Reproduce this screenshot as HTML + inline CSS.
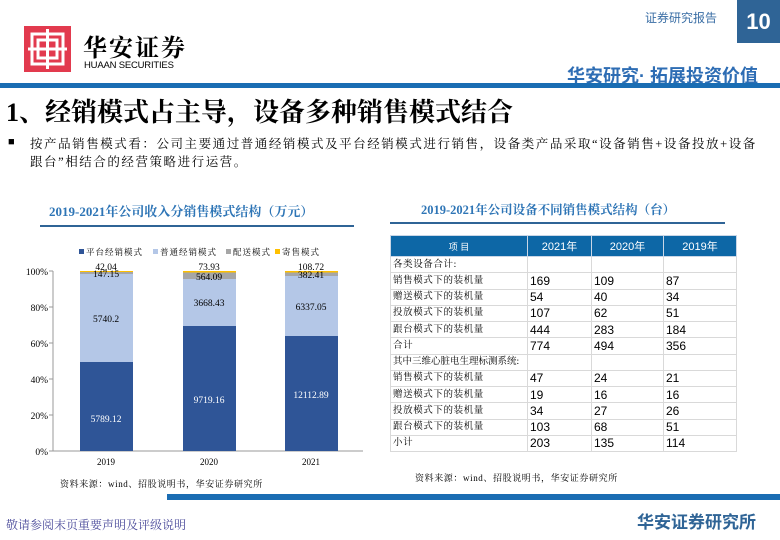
<!DOCTYPE html>
<html><head><meta charset="utf-8"><style>
*{margin:0;padding:0;box-sizing:border-box}
body{width:780px;height:540px;position:relative;background:#fff;overflow:hidden;font-family:"Liberation Serif","Noto Serif CJK SC",serif;color:#000}
.a{position:absolute;white-space:nowrap}
.sans{font-family:"Liberation Sans","Noto Sans CJK SC",sans-serif}
table{border-collapse:collapse;position:absolute;left:390px;top:235px;width:346px;font-size:9.5px;letter-spacing:0.6px;table-layout:fixed}
td{height:16.25px;border:1px solid #d9d9d9;padding:0 0 0 2px;line-height:14px;white-space:nowrap;overflow:hidden}
td.n{font-family:"Liberation Sans",sans-serif;font-size:12px;letter-spacing:0}
th{background:#0d67a6;color:#fff;height:21px;font-weight:normal;font-family:"Liberation Sans","Noto Sans CJK SC",sans-serif;font-size:11px;border:1px solid #c9d6e6;letter-spacing:0}
</style></head><body>
<div class="a sans" style="left:645px;top:9px;font-size:12px;color:#3a6ea5">证券研究报告</div>
<div class="a sans" style="left:737px;top:0;width:43px;height:43px;background:#2f6496;color:#fff;font-size:22px;font-weight:bold;text-align:center;line-height:44px">10</div>
<svg class="a" style="left:24px;top:26px" width="47" height="46" viewBox="0 0 47 46"><rect width="47" height="46" fill="#e23a4e"/><g fill="none" stroke="#fff" stroke-width="3"><rect x="8" y="8" width="31" height="30"/><path d="M23.5 3V43M4 23H43M14 14h19v18H14z"/></g></svg>
<div class="a" style="left:83px;top:28px;font-size:24px;font-weight:bold;font-family:'Noto Serif CJK SC',serif;letter-spacing:2px">华安证券</div>
<div class="a sans" style="left:84px;top:60px;font-size:9.5px;letter-spacing:-0.2px">HUAAN SECURITIES</div>
<div class="a sans" style="left:567px;top:62px;font-size:18px;font-weight:bold;color:#2e6db4">华安研究· 拓展投资价值</div>
<div class="a" style="left:0;top:83px;width:780px;height:5px;background:#1a6db3"></div>
<div class="a" style="left:6px;top:92px;font-size:26px;font-weight:bold">1、经销模式占主导，设备多种销售模式结合</div>
<div class="a" style="left:8px;top:136px;font-size:11px">■</div>
<div class="a" style="left:30px;top:135px;font-size:12.5px;line-height:18px;letter-spacing:1.55px">按产品销售模式看：公司主要通过普通经销模式及平台经销模式进行销售，设备类产品采取“设备销售+设备投放+设备<br>跟台”相结合的经营策略进行运营。</div>

<div class="a" style="left:49px;top:201px;font-size:13px;font-weight:bold;color:#2e75b6">2019-2021年公司收入分销售模式结构（万元）</div>
<div class="a" style="left:40px;top:225px;width:314px;height:2px;background:#2f6496"></div>
<svg class="a" style="left:0;top:240px" width="380" height="250" font-family="Liberation Serif,Noto Serif CJK SC,serif" font-size="9.5">
<g font-size="8.5" letter-spacing="1"><rect x="79" y="9" width="5" height="5" fill="#2f5597"/><text x="86" y="15">平台经销模式</text>
<rect x="153" y="9" width="5" height="5" fill="#b4c7e7"/><text x="160" y="15">普通经销模式</text>
<rect x="226" y="9" width="5" height="5" fill="#a6a6a6"/><text x="233" y="15">配送模式</text>
<rect x="275" y="9" width="5" height="5" fill="#ffc000"/><text x="282" y="15">寄售模式</text></g>
<g text-anchor="end"><text x="48" y="35">100%</text><text x="48" y="71">80%</text><text x="48" y="107">60%</text><text x="48" y="143">40%</text><text x="48" y="179">20%</text><text x="48" y="215">0%</text></g>
<g stroke="#999" stroke-width="1"><line x1="53" y1="211" x2="363" y2="211"/><line x1="53" y1="31" x2="53" y2="211"/>
<line x1="49" y1="31" x2="53" y2="31"/><line x1="49" y1="67" x2="53" y2="67"/><line x1="49" y1="103" x2="53" y2="103"/><line x1="49" y1="139" x2="53" y2="139"/><line x1="49" y1="175" x2="53" y2="175"/><line x1="49" y1="211" x2="53" y2="211"/></g>
<rect x="80" y="122" width="53" height="89" fill="#2f5597"/><rect x="80" y="34" width="53" height="88" fill="#b4c7e7"/><rect x="80" y="32" width="53" height="2" fill="#a6a6a6"/><rect x="80" y="31" width="53" height="1" fill="#ffc000"/>
<rect x="183" y="86" width="53" height="125" fill="#2f5597"/><rect x="183" y="39" width="53" height="47" fill="#b4c7e7"/><rect x="183" y="32" width="53" height="7" fill="#a6a6a6"/><rect x="183" y="31" width="53" height="1.5" fill="#ffc000"/>
<rect x="285" y="96" width="53" height="115" fill="#2f5597"/><rect x="285" y="36" width="53" height="60" fill="#b4c7e7"/><rect x="285" y="32" width="53" height="4" fill="#a6a6a6"/><rect x="285" y="31" width="53" height="1.5" fill="#ffc000"/>
<g text-anchor="middle"><text x="106" y="30">42.04</text><text x="106" y="37">147.15</text><text x="106" y="82">5740.2</text><text x="106" y="182" fill="#fff">5789.12</text>
<text x="209" y="30">73.93</text><text x="209" y="40">564.09</text><text x="209" y="66">3668.43</text><text x="209" y="163" fill="#fff">9719.16</text>
<text x="311" y="30">108.72</text><text x="311" y="38">382.41</text><text x="311" y="70">6337.05</text><text x="311" y="158" fill="#fff">12112.89</text>
<text x="106" y="225" font-size="9">2019</text><text x="209" y="225" font-size="9">2020</text><text x="311" y="225" font-size="9">2021</text></g>
<text x="60" y="247" font-size="9" letter-spacing="0.6">资料来源：wind、招股说明书，华安证券研究所</text>
</svg>

<div class="a" style="left:421px;top:200px;font-size:12.5px;font-weight:bold;color:#2e75b6">2019-2021年公司设备不同销售模式结构（台）</div>
<div class="a" style="left:390px;top:222px;width:335px;height:2px;background:#2f6496"></div>
<table>
<colgroup><col style="width:137px"><col style="width:64px"><col style="width:72px"><col style="width:73px"></colgroup>
<tr><th style="font-size:9px">项 目</th><th>2021年</th><th>2020年</th><th>2019年</th></tr>
<tr><td>各类设备合计:</td><td></td><td></td><td></td></tr>
<tr><td>销售模式下的装机量</td><td class="n">169</td><td class="n">109</td><td class="n">87</td></tr>
<tr><td>赠送模式下的装机量</td><td class="n">54</td><td class="n">40</td><td class="n">34</td></tr>
<tr><td>投放模式下的装机量</td><td class="n">107</td><td class="n">62</td><td class="n">51</td></tr>
<tr><td>跟台模式下的装机量</td><td class="n">444</td><td class="n">283</td><td class="n">184</td></tr>
<tr><td>合计</td><td class="n">774</td><td class="n">494</td><td class="n">356</td></tr>
<tr><td style="letter-spacing:0">其中三维心脏电生理标测系统:</td><td></td><td></td><td></td></tr>
<tr><td>销售模式下的装机量</td><td class="n">47</td><td class="n">24</td><td class="n">21</td></tr>
<tr><td>赠送模式下的装机量</td><td class="n">19</td><td class="n">16</td><td class="n">16</td></tr>
<tr><td>投放模式下的装机量</td><td class="n">34</td><td class="n">27</td><td class="n">26</td></tr>
<tr><td>跟台模式下的装机量</td><td class="n">103</td><td class="n">68</td><td class="n">51</td></tr>
<tr><td>小计</td><td class="n">203</td><td class="n">135</td><td class="n">114</td></tr>
</table>
<div class="a" style="left:415px;top:471px;font-size:9px;letter-spacing:0.6px">资料来源：wind、招股说明书，华安证券研究所</div>

<div class="a" style="left:167px;top:494px;width:613px;height:6px;background:#1a6db3"></div>
<div class="a" style="left:6px;top:516px;font-size:12px;color:#4a4a9a">敬请参阅末页重要声明及评级说明</div>
<div class="a sans" style="left:637px;top:508px;font-size:17px;font-weight:bold;color:#2f6496">华安证券研究所</div>
</body></html>
